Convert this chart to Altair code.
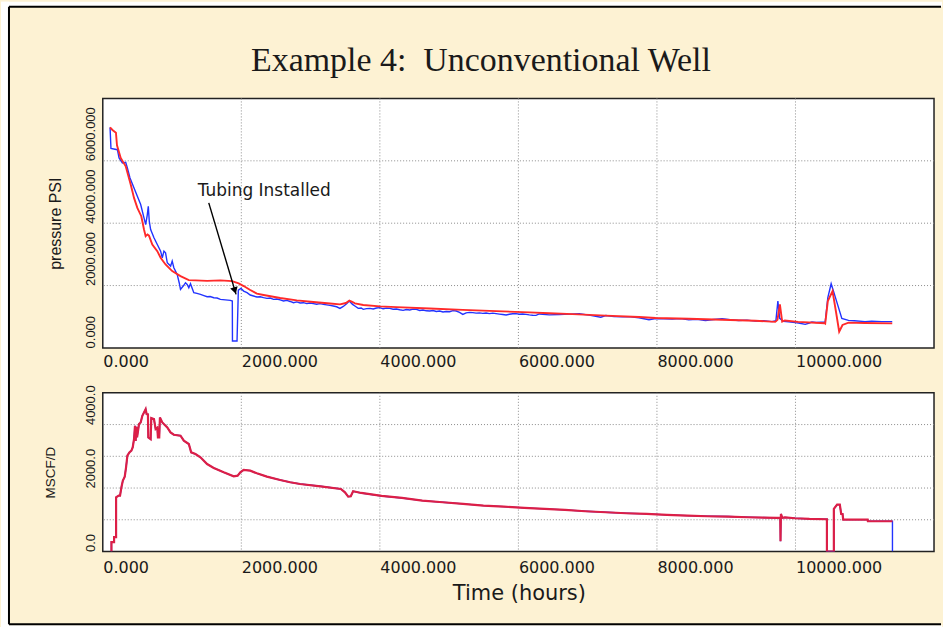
import altair as alt
import pandas as pd

# ---------------- data ----------------
# wellhead pressure, measured (hours, psi)
pressure_measured = [
    (105, 7072), (118, 6400), (211, 6357), (235, 6091), (283, 5931), (331, 5952),
    (355, 5771), (393, 5451), (451, 5131), (499, 4864), (547, 4597), (595, 4171),
    (619, 3957), (643, 4277), (657, 4544), (671, 4064), (691, 3797), (739, 3531),
    (787, 3317), (835, 3104), (859, 2891), (883, 3104), (906, 3051), (931, 2731),
    (979, 2624), (1002, 2784), (1026, 2571), (1074, 2357), (1103, 2091), (1122, 1877),
    (1161, 1984), (1194, 2091), (1218, 2037), (1242, 1931), (1266, 2059), (1314, 1771),
    (1360, 1750), (1410, 1717), (1460, 1680), (1506, 1643), (1550, 1650), (1602, 1611),
    (1650, 1600), (1698, 1557), (1770, 1540), (1842, 1525), (1870, 1504), (1872, 224),
    (1938, 224), (1957, 1850), (1995, 1909), (2034, 1824), (2082, 1771), (2129, 1696),
    (2177, 1664), (2225, 1632), (2273, 1640), (2321, 1611), (2370, 1590), (2417, 1600),
    (2465, 1557), (2513, 1570), (2561, 1540), (2609, 1504), (2657, 1525), (2705, 1490),
    (2753, 1451), (2801, 1475), (2849, 1440), (2897, 1451), (2945, 1420), (2993, 1440),
    (3040, 1419), (3088, 1400), (3136, 1420), (3184, 1397), (3232, 1380), (3280, 1365),
    (3328, 1344), (3376, 1320), (3424, 1269), (3472, 1330), (3520, 1419), (3558, 1504),
    (3606, 1397), (3650, 1330), (3688, 1269), (3730, 1280), (3760, 1237), (3808, 1262),
    (3856, 1269), (3904, 1250), (3952, 1280), (3999, 1291), (4047, 1255), (4095, 1275),
    (4143, 1269), (4191, 1240), (4239, 1250), (4287, 1225), (4335, 1205), (4383, 1230),
    (4431, 1215), (4479, 1245), (4527, 1237), (4575, 1200), (4623, 1215), (4671, 1190),
    (4719, 1184), (4767, 1200), (4815, 1170), (4863, 1185), (4911, 1152), (4959, 1170),
    (5007, 1160), (5055, 1195), (5103, 1184), (5150, 1140), (5198, 1077), (5246, 1125),
    (5294, 1140), (5342, 1131), (5390, 1115), (5438, 1125), (5486, 1109), (5534, 1120),
    (5582, 1100), (5630, 1115), (5678, 1099), (5726, 1085), (5774, 1070), (5822, 1056),
    (5870, 1080), (5918, 1095), (5966, 1099), (6014, 1080), (6062, 1090), (6110, 1077),
    (6158, 1060), (6206, 1050), (6254, 1045), (6302, 1090), (6446, 1060), (6590, 1070),
    (6734, 1083), (6878, 1095), (7021, 1051), (7189, 985), (7261, 1040), (7380, 1010),
    (7501, 998), (7620, 1000), (7741, 966), (7885, 905), (7981, 945), (8100, 935),
    (8221, 924), (8340, 940), (8460, 900), (8580, 915), (8700, 880), (8820, 910),
    (8940, 940), (9060, 905), (9180, 880), (9300, 890), (9420, 860), (9540, 870),
    (9660, 845), (9717, 870), (9746, 1500), (9772, 950), (9800, 900), (9828, 850),
    (9900, 840), (9997, 811), (10043, 800), (10141, 757), (10200, 800), (10237, 832),
    (10300, 815), (10429, 832), (10467, 1611), (10515, 2059), (10563, 1717), (10669, 949),
    (10765, 885), (10850, 870), (11004, 843), (11100, 860), (11244, 843), (11397, 843),
]

# wellhead pressure, calculated (hours, psi)
pressure_calculated = [
    (105, 7072), (140, 6990), (190, 6900), (205, 6500), (259, 6091), (331, 5824),
    (403, 5237), (451, 4811), (499, 4491), (556, 4224), (595, 3797), (619, 3584),
    (645, 3640), (667, 3600), (715, 3317), (787, 3104), (835, 2891), (906, 2677),
    (1002, 2464), (1122, 2304), (1242, 2176), (1338, 2165), (1506, 2150), (1698, 2165),
    (1866, 2144), (1962, 2069), (2034, 1984), (2129, 1856), (2225, 1739), (2321, 1696),
    (2561, 1600), (2801, 1525), (3040, 1475), (3280, 1425), (3424, 1397), (3510, 1440),
    (3560, 1520), (3600, 1480), (3640, 1429), (3760, 1376), (3999, 1333), (4239, 1310),
    (4719, 1265), (5198, 1222), (5678, 1180), (6158, 1140), (6446, 1110), (6782, 1085),
    (7261, 1035), (7741, 990), (7981, 960), (8460, 935), (8940, 905), (9420, 870),
    (9708, 835), (9740, 900), (9775, 1400), (9808, 843), (9846, 880), (10038, 835),
    (10422, 790), (10429, 780), (10467, 1504), (10535, 1824), (10583, 1184), (10631, 523),
    (10679, 736), (10765, 811), (11000, 800), (11397, 789),
]

# gas rate (hours, MSCF/D)
gas_rate = [
    (125, 0), (125, 295), (163, 295), (163, 452), (192, 452), (192, 1709), (230, 1762),
    (249, 1762), (269, 2024), (290, 2234), (317, 2359), (336, 2653), (355, 3019),
    (384, 3124), (413, 3177), (432, 3281), (451, 3543), (465, 3963), (475, 3480),
    (485, 3930), (495, 3600), (523, 4015), (547, 4067), (571, 4277), (595, 4382),
    (619, 4487), (633, 4329), (652, 4320), (657, 3596), (691, 3543), (700, 4203),
    (739, 4172), (763, 3858), (787, 3900), (796, 3596), (815, 3596), (825, 4224),
    (859, 4067), (931, 3910), (978, 3753), (1026, 3680), (1122, 3648), (1170, 3491),
    (1242, 3386), (1276, 3124), (1338, 3072), (1410, 2967), (1506, 2757), (1602, 2632),
    (1746, 2495), (1890, 2370), (1947, 2391), (1986, 2495), (2034, 2569), (2129, 2548),
    (2225, 2464), (2369, 2359), (2561, 2254), (2705, 2181), (2849, 2128), (3143, 2055),
    (3437, 1971), (3496, 1866), (3543, 1730), (3580, 1740), (3614, 1898), (3731, 1845),
    (4025, 1751), (4319, 1688), (4613, 1604), (4907, 1552), (5201, 1500), (5496, 1447),
    (5790, 1415), (6084, 1374), (6378, 1342), (6672, 1311), (6966, 1269), (7260, 1237),
    (7555, 1206), (7849, 1185), (8143, 1153), (8437, 1132), (8731, 1111), (9025, 1101),
    (9319, 1080), (9730, 1059), (9780, 1059), (9784, 325), (9790, 1185), (9810, 1060),
    (9848, 1075), (9995, 1048), (10201, 1027), (10454, 1017), (10454, 0), (10554, 0),
    (10554, 1342), (10601, 1478), (10640, 1478), (10660, 1185), (10680, 1180),
    (10689, 1006), (11042, 1006), (11045, 954), (11400, 954),
]
# well shut in at the end of the record
gas_rate_shut_in = [(11400, 0)]

time_grid = [2000, 4000, 6000, 8000, 10000]
time_labels = [0, 2000, 4000, 6000, 8000, 10000]
pressure_grid = [2000, 4000, 6000]
pressure_labels = [0, 2000, 4000, 6000]
rate_grid = [1000, 2000, 3000, 4000]
rate_labels = [0, 2000, 4000]

annotation = {"t": [2331], "p": [4864], "label": ["Tubing Installed"]}
arrow_shaft = {"t": [1530, 1924], "p": [4650, 1718]}
arrow_head = {"t": [1907], "p": [1841]}

TITLE = "Example 4:\u00a0 Unconventional Well"

# ---------------- style ----------------
CREAM = "#fdf2d3"
INK = "#1a1a1a"
BLUE = "#2233ff"
RED = "#ff2a2a"
CRIMSON = "#dc1f47"
GRID = "#8c8c8c"
W = 833
H_TOP = 250
H_BOT = 159


def frame(rows, cols):
    df = pd.DataFrame(rows, columns=cols)
    df["i"] = range(len(df))
    return df


df_meas = frame(pressure_measured, ["t", "p"])
df_calc = frame(pressure_calculated, ["t", "p"])
df_rate = frame(gas_rate, ["t", "q"])
df_rate_all = frame(gas_rate + gas_rate_shut_in, ["t", "q"])
one = pd.DataFrame({"k": [0]})

x_scale = alt.Scale(domain=[0, 12000], nice=False, zero=False)

x_axis_top = alt.Axis(values=time_labels, format=".3f", labelAlign="left",
                      labelFont="DejaVu Sans", labelFontSize=16, labelPadding=6,
                      title=None)
x_axis_bot = alt.Axis(values=time_labels, format=".3f", labelAlign="left",
                      labelFont="DejaVu Sans", labelFontSize=16, labelPadding=8,
                      title="Time (hours)", titleFont="DejaVu Sans", titleFontSize=21,
                      titleFontWeight="normal", titleColor=INK, titleX=417, titleY=42,
                      titleAlign="center", titleBaseline="middle")


def y_axis(values, fmt, title, size, tx, ty):
    return alt.Axis(values=values, format=fmt, labelAngle=270, labelAlign="left",
                    labelBaseline="middle", labelFont="Liberation Sans", labelFontSize=13,
                    labelPadding=12, title=title, titleFont="Liberation Sans",
                    titleFontSize=size, titleFontWeight="normal", titleColor=INK,
                    titleAngle=270, titleX=tx, titleY=ty, titleAlign="center",
                    titleBaseline="middle")


X_TOP = alt.X("t:Q", scale=x_scale, axis=x_axis_top)
Y_TOP = alt.Y("p:Q", scale=alt.Scale(domain=[0, 8000], nice=False),
              axis=y_axis(pressure_labels, ".3f", "pressure PSI", 16, -47, 125))
X_BOT = alt.X("t:Q", scale=x_scale, axis=x_axis_bot)
Y_BOT = alt.Y("q:Q", scale=alt.Scale(domain=[0, 5000], nice=False),
              axis=y_axis(rate_labels, ".1f", "MSCF/D", 13.5, -52, 79.5))

# ---- page decoration: white margin, black frame, heading ----
def strip(x1, x2, y1, y2):
    return alt.Chart(one).mark_rect(color="white").encode(
        x=alt.value(x1), x2=alt.value(x2), y=alt.value(y1), y2=alt.value(y2))


def edge(x1, x2, y1, y2):
    return alt.Chart(one).mark_rule(color="black", strokeWidth=2).encode(
        x=alt.value(x1), x2=alt.value(x2), y=alt.value(y1), y2=alt.value(y2))


decor = [
    strip(-102, -94, -97, 530),
    strip(-102, 841, -97, -92),
    strip(-102, 841, 528, 530),
    edge(-94, -94, -92, 527),
    edge(-94, 840, -92, -92),
    edge(-94, 840, 527, 527),
]

heading = alt.Chart(one).mark_text(font="Liberation Serif", fontSize=34, color=INK,
                                   align="center", baseline="alphabetic").encode(
    x=alt.value(379), y=alt.value(-28), text=alt.value(TITLE))

dotted = dict(color=GRID, strokeDash=[1, 2], strokeWidth=1)

# ---- pressure panel ----
top_vgrid = alt.Chart(pd.DataFrame({"t": time_grid})).mark_rule(**dotted).encode(x=X_TOP)
top_hgrid = alt.Chart(pd.DataFrame({"p": pressure_grid})).mark_rule(**dotted).encode(y=Y_TOP)

meas_line = alt.Chart(df_meas).mark_line(color=BLUE, strokeWidth=1.4, clip=True).encode(
    x=X_TOP, y=Y_TOP, order="i:Q")
calc_line = alt.Chart(df_calc).mark_line(color=RED, strokeWidth=1.9, clip=True).encode(
    x=X_TOP, y=Y_TOP, order="i:Q")

shaft = alt.Chart(pd.DataFrame(arrow_shaft)).mark_line(color="black", strokeWidth=1.4).encode(
    x=X_TOP, y=Y_TOP)
head = alt.Chart(pd.DataFrame(arrow_head)).mark_point(
    shape="triangle-down", filled=True, color="black", size=60, angle=343, opacity=1).encode(
    x=X_TOP, y=Y_TOP)
note = alt.Chart(pd.DataFrame(annotation)).mark_text(
    font="DejaVu Sans", fontSize=17, color=INK, align="center", baseline="alphabetic").encode(
    x=X_TOP, y=Y_TOP, text="label:N")

top = alt.layer(*decor, heading, top_vgrid, top_hgrid, meas_line, calc_line,
                shaft, head, note).properties(width=W, height=H_TOP)

# ---- rate panel ----
bot_vgrid = alt.Chart(pd.DataFrame({"t": time_grid})).mark_rule(**dotted).encode(x=X_BOT)
bot_hgrid = alt.Chart(pd.DataFrame({"q": rate_grid})).mark_rule(**dotted).encode(y=Y_BOT)
rate_under = alt.Chart(df_rate_all).mark_line(color=BLUE, strokeWidth=1.4, clip=True).encode(
    x=X_BOT, y=Y_BOT, order="i:Q")
rate_line = alt.Chart(df_rate).mark_line(color=CRIMSON, strokeWidth=2.2, clip=True).encode(
    x=X_BOT, y=Y_BOT, order="i:Q")

bottom = alt.layer(bot_vgrid, bot_hgrid, rate_under, rate_line).properties(
    width=W, height=H_BOT)

chart = alt.vconcat(top, bottom, spacing=45, bounds="flush").properties(
    padding=0
).configure(background=CREAM).configure_view(
    fill="white", stroke="#222222", strokeWidth=1.5
).configure_axis(
    ticks=False, domain=False, grid=False, labelColor=INK, labelOverlap=False,
    labelFlush=False
)

chart.save("out.html", embed_options={"renderer": "svg", "actions": False})
